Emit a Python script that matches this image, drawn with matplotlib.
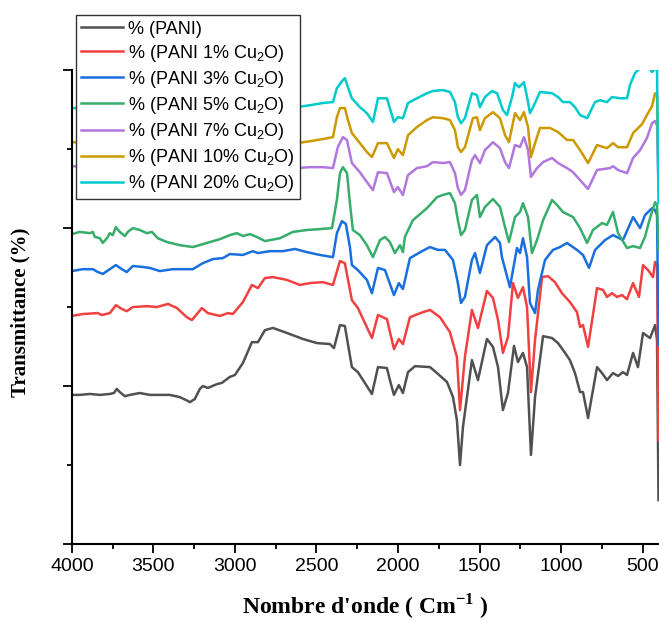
import matplotlib
matplotlib.use("Agg")
import matplotlib.pyplot as plt
from matplotlib.ticker import MultipleLocator

plt.rcParams['font.family'] = ['Liberation Sans', 'DejaVu Sans']
plt.rcParams['mathtext.fontset'] = 'custom'
plt.rcParams['mathtext.rm'] = 'Liberation Sans'
plt.rcParams['mathtext.it'] = 'Liberation Sans:italic'
plt.rcParams['mathtext.bf'] = 'Liberation Serif:bold'

# FTIR spectra, wavenumber (cm-1) vs transmittance (stacked, a.u.)
wn_pani = [4000, 3951, 3890, 3828, 3767, 3742, 3724, 3706, 3675, 3644, 3614, 3583, 3522, 3460,
           3399, 3338, 3301, 3276, 3246, 3215, 3197, 3166, 3111, 3080, 3031, 3000, 2951, 2896,
           2859, 2816, 2767, 2681, 2583, 2497, 2418, 2393, 2356, 2326, 2283, 2246, 2160, 2123,
           2068, 2050, 2025, 1995, 1970, 1939, 1896, 1804, 1761, 1700, 1663, 1639, 1620, 1602,
           1547, 1510, 1455, 1418, 1387, 1357, 1326, 1289, 1265, 1234, 1209, 1185, 1160, 1111,
           1056, 1019, 976, 946, 915, 884, 866, 835, 780, 749, 719, 682, 651, 621, 596, 559,
           529, 498, 455, 424, 412, 403]
t_pani = [47.2, 47.2, 47.5, 47.2, 47.5, 47.8, 49.1, 48.1, 46.8, 47.2, 47.5, 47.8, 47.2, 47.2,
          47.2, 46.5, 45.6, 44.9, 45.9, 49.1, 50.0, 49.4, 50.6, 51.0, 52.9, 53.5, 57.3, 63.9,
          63.9, 67.7, 68.4, 66.8, 64.9, 63.6, 63.3, 62.0, 69.3, 69.0, 56.0, 54.4, 47.5, 56.0,
          55.7, 51.9, 47.2, 50.3, 47.8, 54.4, 56.3, 56.0, 54.1, 51.3, 46.5, 39.2, 25.0, 37.0,
          58.2, 51.9, 64.9, 62.4, 56.0, 42.4, 47.8, 62.7, 57.6, 60.5, 56.0, 28.2, 46.5, 65.8,
          65.2, 63.6, 60.5, 58.2, 54.1, 48.1, 48.1, 39.9, 56.0, 54.1, 51.9, 54.1, 53.2, 54.4,
          53.5, 60.5, 56.0, 66.8, 65.2, 69.3, 64.6, 13.9]

wn_1 = [4000, 3933, 3841, 3816, 3767, 3730, 3693, 3663, 3626, 3540, 3479, 3411, 3356, 3295,
        3264, 3233, 3203, 3166, 3092, 3043, 3013, 2951, 2896, 2859, 2816, 2767, 2681, 2602,
        2540, 2461, 2399, 2356, 2326, 2283, 2246, 2160, 2123, 2068, 2025, 1995, 1970, 1927,
        1847, 1804, 1743, 1682, 1639, 1620, 1590, 1547, 1510, 1455, 1418, 1387, 1357, 1326,
        1295, 1265, 1234, 1209, 1185, 1160, 1117, 1081, 1038, 995, 946, 903, 884, 866, 835,
        780, 743, 719, 688, 658, 627, 596, 559, 523, 498, 467, 437, 424, 412, 403]
t_1 = [72.2, 72.8, 73.1, 72.5, 73.1, 75.6, 74.4, 73.7, 75.0, 75.3, 75.0, 76.0, 74.7, 71.8,
       70.9, 72.8, 74.7, 73.1, 72.2, 73.1, 72.8, 76.6, 82.0, 81.0, 84.2, 84.5, 83.6, 82.0,
       82.6, 82.9, 82.0, 89.6, 88.9, 77.2, 74.7, 65.2, 72.5, 71.2, 61.7, 64.9, 63.3, 71.8,
       73.4, 74.1, 71.8, 67.1, 59.2, 42.4, 59.2, 74.1, 68.4, 80.1, 77.9, 70.9, 60.5, 65.5,
       82.6, 77.9, 81.3, 75.0, 48.1, 64.6, 84.5, 84.8, 82.9, 79.4, 76.6, 73.4, 68.7, 69.3, 62.4,
       81.0, 80.4, 78.2, 79.4, 78.2, 78.8, 77.5, 82.6, 78.2, 88.3, 86.7, 84.5, 89.3, 88.3, 32.9]

wn_3 = [4000, 3933, 3871, 3841, 3810, 3767, 3730, 3693, 3663, 3626, 3565, 3522, 3460, 3381,
        3319, 3258, 3197, 3135, 3074, 3031, 2951, 2890, 2859, 2786, 2706, 2632, 2559, 2479,
        2399, 2375, 2344, 2320, 2295, 2283, 2246, 2191, 2160, 2123, 2080, 2025, 1995, 1970,
        1927, 1853, 1804, 1755, 1712, 1663, 1633, 1614, 1590, 1547, 1528, 1498, 1455, 1405,
        1375, 1363, 1314, 1271, 1252, 1234, 1209, 1191, 1160, 1142, 1099, 1050, 1007, 964,
        903, 866, 829, 792, 731, 682, 621, 559, 516, 486, 443, 424, 412, 403]
t_3 = [86.4, 87.0, 87.0, 86.1, 85.5, 87.0, 88.3, 87.0, 86.1, 88.0, 87.7, 87.4, 86.4, 87.0,
       87.0, 87.0, 88.9, 90.2, 90.5, 91.8, 91.5, 92.7, 92.1, 92.7, 92.7, 93.4, 92.4, 91.5,
       90.8, 98.4, 102.2, 101.3, 94.0, 88.3, 86.7, 83.6, 79.4, 87.4, 86.7, 78.8, 82.6, 80.7,
       90.5, 92.7, 94.0, 93.1, 93.1, 89.9, 82.6, 76.3, 78.2, 89.9, 92.1, 85.8, 94.6, 97.2,
       95.3, 90.8, 81.3, 93.7, 92.1, 96.8, 90.8, 76.3, 73.1, 80.4, 89.9, 93.1, 94.0, 95.3,
       93.1, 91.5, 87.4, 93.1, 96.2, 97.8, 96.2, 103.5, 100.0, 104.1, 106.3, 105.7, 104.1, 63.0]

wn_5 = [4000, 3951, 3890, 3871, 3859, 3828, 3810, 3785, 3767, 3749, 3730, 3706, 3675, 3657,
        3626, 3583, 3540, 3509, 3473, 3417, 3338, 3258, 3172, 3092, 3031, 2988, 2951, 2908,
        2865, 2816, 2724, 2645, 2559, 2479, 2405, 2375, 2356, 2338, 2313, 2295, 2277, 2234,
        2191, 2154, 2111, 2080, 2050, 2019, 1988, 1970, 1958, 1909, 1823, 1761, 1725, 1682,
        1651, 1633, 1614, 1590, 1547, 1516, 1498, 1467, 1418, 1375, 1344, 1320, 1283, 1252,
        1234, 1203, 1179, 1148, 1111, 1056, 1025, 989, 927, 884, 841, 805, 749, 719, 682, 651,
        596, 559, 516, 486, 455, 424, 412, 403]
t_5 = [98.1, 98.8, 98.4, 98.8, 97.2, 96.8, 95.3, 96.8, 98.4, 97.8, 100.3, 98.8, 97.5, 98.8,
       100.0, 99.4, 98.4, 98.8, 96.8, 95.6, 94.6, 94.0, 95.3, 96.5, 97.8, 98.4, 97.5, 98.1,
       97.2, 95.9, 96.8, 98.8, 99.4, 99.7, 100.0, 108.9, 117.4, 119.3, 117.4, 107.9, 99.4, 97.8,
       94.6, 90.8, 96.2, 97.2, 95.6, 92.1, 94.6, 92.4, 97.2, 102.5, 106.3, 109.8, 110.5, 111.1,
       107.9, 102.5, 97.8, 99.4, 108.9, 110.5, 103.5, 106.7, 109.2, 106.7, 100.3, 95.6, 103.5, 105.1,
       107.9, 103.5, 92.1, 96.2, 102.5, 108.9, 107.3, 105.1, 103.5, 100.0, 95.3, 99.4, 101.6, 101.0, 105.1, 98.4,
       93.7, 94.3, 93.7, 97.2, 103.2, 108.2, 107.3, 93.1]

wn_7 = [4000, 3522, 3092, 2847, 2620, 2540, 2461, 2399, 2369, 2338, 2313, 2283, 2234, 2191,
        2154, 2123, 2068, 2025, 2001, 1970, 1939, 1884, 1823, 1786, 1725, 1682, 1651, 1633,
        1614, 1590, 1547, 1528, 1498, 1467, 1418, 1375, 1344, 1320, 1283, 1252, 1228, 1203,
        1185, 1148, 1111, 1056, 1019, 964, 927, 884, 835, 780, 700, 682, 651, 596, 559, 516,
        474, 443, 424, 412, 403]
t_7 = [119.6, 118.7, 118.1, 118.4, 119.0, 119.3, 119.3, 119.0, 125.7, 128.8, 127.9, 120.6, 117.7, 114.6,
       112.0, 117.7, 117.4, 111.4, 113.0, 110.5, 116.8, 119.0, 119.6, 120.9, 120.6, 120.9, 117.4, 112.7,
       110.5, 112.0, 121.5, 123.1, 120.6, 124.7, 127.2, 125.3, 120.9, 119.0, 126.3, 125.7, 128.8, 124.7,
       116.2, 119.0, 120.9, 122.2, 120.6, 119.0, 117.7, 115.2, 112.4, 118.4, 119.0, 119.6, 118.4, 117.4, 122.2, 124.7,
       128.5, 133.2, 133.9, 132.6, 112.0]

wn_10 = [4000, 3522, 3092, 2847, 2620, 2540, 2461, 2399, 2375, 2356, 2326, 2307, 2283, 2234,
         2191, 2160, 2123, 2068, 2025, 2001, 1970, 1939, 1884, 1823, 1786, 1725, 1682, 1651,
         1633, 1614, 1590, 1541, 1516, 1498, 1467, 1418, 1375, 1344, 1320, 1283, 1252, 1228,
         1203, 1185, 1160, 1130, 1068, 1019, 964, 927, 884, 835, 780, 719, 682, 651, 596, 559,
         504, 474, 443, 424, 412, 403]
t_10 = [127.2, 126.9, 126.9, 126.6, 126.9, 127.5, 128.2, 128.8, 135.1, 138.0, 138.0, 134.2, 130.1, 126.9,
        124.1, 122.5, 126.9, 126.9, 122.2, 125.0, 123.1, 129.4, 132.0, 134.2, 135.1, 134.8, 134.2, 131.0,
        125.6, 124.1, 125.6, 134.8, 135.1, 131.0, 134.8, 136.7, 134.8, 129.4, 127.2, 136.4, 134.2, 136.7,
        132.0, 122.5, 126.9, 131.7, 131.7, 130.4, 127.9, 127.9, 124.7, 120.6, 126.3, 125.3, 126.9, 125.6, 125.6, 130.1,
        132.9, 135.8, 138.6, 142.7, 142.1, 116.8]

wn_20 = [4000, 3522, 3092, 2847, 2620, 2540, 2461, 2399, 2375, 2344, 2326, 2307, 2283, 2234,
         2191, 2154, 2123, 2068, 2025, 2001, 1970, 1939, 1884, 1823, 1786, 1725, 1682, 1651,
         1633, 1614, 1590, 1547, 1516, 1498, 1467, 1424, 1393, 1357, 1332, 1301, 1283, 1258,
         1228, 1209, 1191, 1160, 1130, 1056, 1019, 989, 946, 915, 884, 841, 792, 762, 719, 688,
         639, 596, 578, 547, 504, 467, 443, 424, 412, 403]
t_20 = [138.0, 138.0, 138.0, 138.0, 138.3, 138.9, 139.6, 139.9, 144.3, 146.5, 147.5, 144.6, 141.1, 138.3,
        136.4, 133.6, 141.1, 141.1, 133.6, 135.1, 134.8, 139.6, 141.1, 142.7, 143.4, 143.7, 143.1, 139.9,
        135.1, 133.2, 134.8, 142.7, 142.1, 138.3, 141.5, 143.4, 142.7, 137.4, 135.8, 141.5, 145.9, 144.6,
        146.2, 141.5, 136.4, 139.6, 143.1, 142.7, 141.5, 139.9, 139.9, 138.3, 135.8, 134.8, 139.9, 140.5, 139.9, 141.5,
        141.1, 141.1, 145.3, 149.1, 151.3, 151.3, 149.4, 150.6, 150.0, 107.9]

series = [
    (wn_pani, t_pani, '% (PANI)', '#515151'),
    (wn_1, t_1, '% (PANI 1% Cu$_2$O)', '#F14040'),
    (wn_3, t_3, '% (PANI 3% Cu$_2$O)', '#1A6FDF'),
    (wn_5, t_5, '% (PANI 5% Cu$_2$O)', '#37AD6B'),
    (wn_7, t_7, '% (PANI 7% Cu$_2$O)', '#B177DE'),
    (wn_10, t_10, '% (PANI 10% Cu$_2$O)', '#CC9900'),
    (wn_20, t_20, '% (PANI 20% Cu$_2$O)', '#00CBCC'),
]

fig = plt.figure(figsize=(6.59, 6.21), dpi=100)
ax = fig.add_axes([0.109, 0.124, 0.891, 0.763])

for wn, t, lab, c in series:
    ax.plot(wn, t, color=c, lw=1.8, label=lab, solid_joinstyle='round')

ax.set_xlim(4000, 400)
ax.set_ylim(0, 150)
ax.set_xticks([4000, 3500, 3000, 2500, 2000, 1500, 1000, 500])
ax.xaxis.set_minor_locator(MultipleLocator(250))
ax.yaxis.set_major_locator(MultipleLocator(50))
ax.yaxis.set_minor_locator(MultipleLocator(25))
ax.tick_params(axis='y', labelleft=False)
ax.tick_params(which='major', length=6.5, width=1.3, direction='out', labelsize=14)
ax.tick_params(which='minor', length=3.5, width=1.3, direction='out')

for s in ['top', 'right']:
    ax.spines[s].set_visible(False)
for s in ['left', 'bottom']:
    ax.spines[s].set_linewidth(1.5)

ax.set_xlabel("Nombre d'onde ( Cm$^{\\mathbf{-1}}$ )", fontfamily='Liberation Serif',
              fontweight='bold', fontsize=17)
ax.set_ylabel('Transmittance (%)', fontfamily='Liberation Serif', fontweight='bold', fontsize=15)
ax.yaxis.set_label_coords(-0.07, 0.49)
ax.xaxis.set_label_coords(0.5, -0.1)

leg = ax.legend(loc='upper left', bbox_to_anchor=(0.007, 1.116), borderaxespad=0, fontsize=13,
                fancybox=False, edgecolor='#333333', framealpha=1, labelspacing=0.28,
                handlelength=2.3, handletextpad=0.3, borderpad=0.3)
leg.get_frame().set_linewidth(1.0)

fig.savefig('out.png', dpi=100)
